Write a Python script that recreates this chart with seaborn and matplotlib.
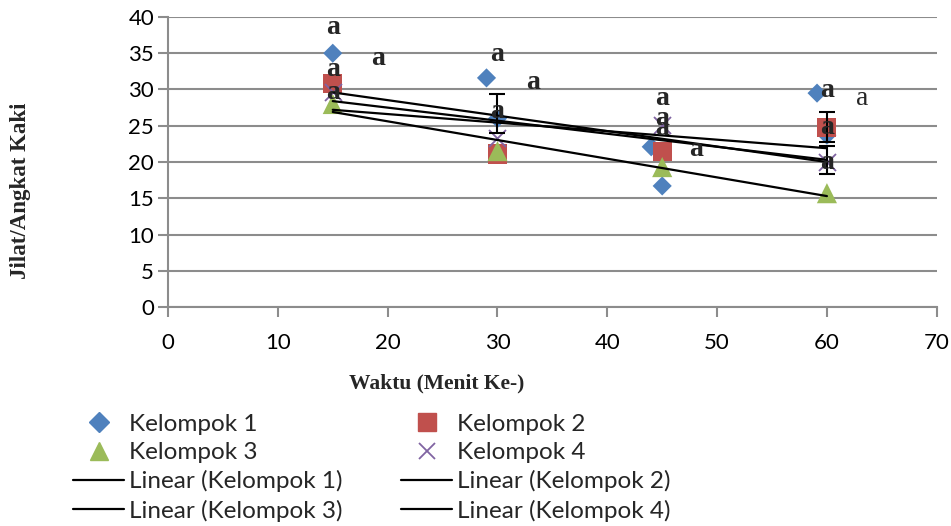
import numpy as np
import pandas as pd
import matplotlib
matplotlib.use("Agg")
import matplotlib.pyplot as plt
import seaborn as sns
from matplotlib.lines import Line2D

# values
k1_x = [15, 29, 30, 44, 45, 59.1, 60]
k1_y = [35.0, 31.6, 26.0, 22.1, 16.7, 29.5, 23.7]
k2_x = [15, 30, 45, 60]
k2_y = [30.8, 21.1, 21.4, 24.8]
k3_x = [15, 30, 45, 60]
k3_y = [28.0, 21.5, 19.3, 15.7]
k4_x = [15, 30, 45, 60]
k4_y = [29.7, 23.3, 25.1, 20.0]

# trend line end points (x = 15 and x = 60)
trend_x = [15, 60]
trend_k1 = [29.6, 20.0]
trend_k2 = [27.2, 21.9]
trend_k3 = [26.9, 15.3]
trend_k4 = [28.4, 20.3]

# error bars
err_x = [30, 60, 60]
err_y = [26.7, 24.8, 20.3]
err_v = [2.7, 2.1, 1.9]

# significance letters
lab_x = [15, 15, 15, 19.1, 30, 30, 33.2, 45, 45, 45, 48.1, 60, 60, 60]
lab_y = [38.5, 32.7, 29.6, 34.3, 34.8, 27.0, 31.0, 28.8, 26.0, 24.6, 21.7, 29.9, 24.8, 20.0]

sns.set_style("white")
plt.rcParams['font.family'] = ['Lato', 'DejaVu Sans']

fig = plt.figure(figsize=(9.51, 5.26), dpi=100)
ax = fig.add_axes([0.1767, 0.4163, 0.8083, 0.5514])

blue, red, green, purple = "#4F81BD", "#C0504D", "#9BBB59", "#8064A2"

df1 = pd.DataFrame({"x": k1_x, "y": k1_y})
df2 = pd.DataFrame({"x": k2_x, "y": k2_y})
df3 = pd.DataFrame({"x": k3_x, "y": k3_y})
df4 = pd.DataFrame({"x": k4_x, "y": k4_y})

sns.scatterplot(data=df1, x="x", y="y", marker="D", s=95, color=blue, edgecolor="none", ax=ax, zorder=3)
sns.scatterplot(data=df2, x="x", y="y", marker="s", s=190, color=red, edgecolor="none", ax=ax, zorder=3)
sns.scatterplot(data=df3, x="x", y="y", marker="^", s=210, color=green, edgecolor="none", ax=ax, zorder=3)
sns.scatterplot(data=df4, x="x", y="y", marker="x", s=150, color=purple, linewidth=1.3, ax=ax, zorder=3)

for ty in [trend_k1, trend_k2, trend_k3, trend_k4]:
    ax.plot(trend_x, ty, color="black", lw=1.6, zorder=4)

ax.errorbar(err_x, err_y, yerr=err_v, fmt="none", ecolor="black", elinewidth=1.5,
            capsize=6, capthick=1.5, zorder=4)

for lx, ly in zip(lab_x, lab_y):
    ax.text(lx, ly, "a", ha="center", va="center", fontsize=20, fontweight="bold",
            family="Liberation Serif", zorder=5)
ax.text(63.2, 28.8, "a", ha="center", va="center", fontsize=20,
        family="Liberation Serif", zorder=5)

ax.set_xlim(0, 70)
ax.set_ylim(0, 40)
ax.set_xticks(range(0, 71, 10))
ax.set_yticks(range(0, 41, 5))
ax.yaxis.grid(True, color="#8C8C8C", lw=1.5)
ax.set_axisbelow(True)
for s in ["top", "right"]:
    ax.spines[s].set_visible(False)
for s in ["left", "bottom"]:
    ax.spines[s].set_color("#8C8C8C")
    ax.spines[s].set_linewidth(1.5)
ax.tick_params(axis="both", which="both", direction="out", length=7, width=1.5,
               color="#8C8C8C", labelsize=16, labelcolor="black",
               left=True, bottom=True)
ax.tick_params(axis="x", pad=12)
ax.tick_params(axis="y", pad=3)

ax.set_xlabel("Waktu (Menit Ke-)", fontsize=15.5, fontweight="bold", family="Liberation Serif")
ax.set_ylabel("Jilat/Angkat Kaki", fontsize=16.5, fontweight="bold", family="Liberation Serif")
ax.xaxis.set_label_coords(0.35, -0.228)
ax.yaxis.set_label_coords(-0.178, 0.40)

h_k1 = Line2D([], [], marker="D", ls="none", color=blue, ms=10)
h_k2 = Line2D([], [], marker="s", ls="none", color=red, ms=13)
h_k3 = Line2D([], [], marker="^", ls="none", color=green, ms=13)
h_k4 = Line2D([], [], marker="x", ls="none", color=purple, ms=12, mew=1.3)
h_l = [Line2D([], [], color="black", lw=1.6) for _ in range(4)]
handles = [h_k1, h_k3, h_l[0], h_l[2], h_k2, h_k4, h_l[1], h_l[3]]
labels = ["Kelompok 1", "Kelompok 3", "Linear (Kelompok 1)", "Linear (Kelompok 3)",
          "Kelompok 2", "Kelompok 4", "Linear (Kelompok 2)", "Linear (Kelompok 4)"]
fig.legend(handles, labels, ncol=2, loc="upper left", bbox_to_anchor=(0.067, 0.232),
           frameon=False, fontsize=17.5, handlelength=2.1, handletextpad=0.2,
           columnspacing=2.4, labelspacing=0.3, borderaxespad=0)

fig.savefig("out.png", dpi=100)
